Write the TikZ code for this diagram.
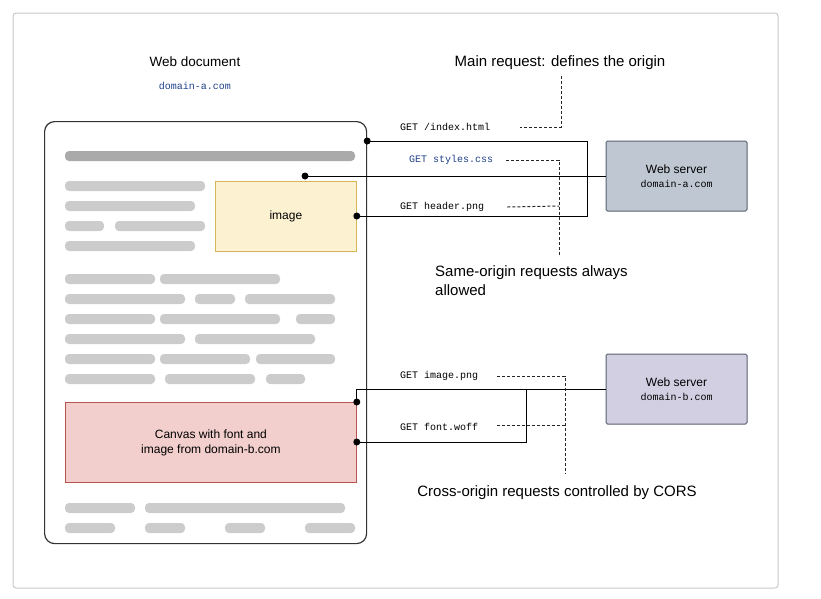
\documentclass[tikz,border=0pt]{standalone}
\usepackage{fontspec}
\setmainfont{Liberation Sans}
\setmonofont{Liberation Mono}
\usetikzlibrary{positioning, calc}

\definecolor{frameGray}{HTML}{C8C8C8}
\definecolor{barGray}{HTML}{CCCCCC}
\definecolor{headGray}{HTML}{AAAAAA}
\definecolor{imgFill}{HTML}{FCF2D2}
\definecolor{imgLine}{HTML}{D6B656}
\definecolor{cnvFill}{HTML}{F2CFCC}
\definecolor{cnvLine}{HTML}{B85450}
\definecolor{srvAFill}{HTML}{BFC8D2}
\definecolor{srvBFill}{HTML}{D2CFE2}
\definecolor{srvLine}{HTML}{5A6070}
\definecolor{linkBlue}{HTML}{1F3F8A}

\begin{document}
\begin{tikzpicture}[x=1pt, y=-1pt,
    docbox/.style={rectangle, draw=black!80, line width=1.2pt, rounded corners=10pt, anchor=north west},
    imgbox/.style={rectangle, draw=imgLine, fill=imgFill, line width=0.8pt, anchor=north west, font=\fontsize{12}{14}\selectfont},
    cnvbox/.style={rectangle, draw=cnvLine, fill=cnvFill, line width=0.8pt, anchor=north west, align=center, font=\fontsize{12}{15}\selectfont},
    server/.style={rectangle, draw=srvLine, line width=1pt, rounded corners=1.5pt, minimum width=141pt, minimum height=70pt, align=center, font=\fontsize{12}{16}\selectfont},
    req/.style={font=\ttfamily\fontsize{10}{12}\selectfont, anchor=west, inner sep=0pt},
    note/.style={font=\fontsize{15}{19}\selectfont, inner sep=0pt},
    bar/.style={fill=barGray, rounded corners=4pt},
    link/.style={line width=1pt, black},
    hint/.style={line width=1pt, dash pattern=on 3pt off 2pt, black!85},
    dot/.style={circle, fill=black, inner sep=0pt, minimum size=7pt}
]

% frame
\useasboundingbox (0,0) rectangle (821,598);
\draw[frameGray, line width=1pt, rounded corners=3pt] (13,13) rectangle (778,588);

% web document
\node[font=\fontsize{13.5}{15}\selectfont] (doctitle) at (195,62) {Web document};
\node[font=\ttfamily\fontsize{10}{12}\selectfont, text=linkBlue] (docdomain) at (195,86) {domain-a.com};
\node[docbox, minimum width=322pt, minimum height=422pt] (doc) at (44,121) {};

\fill[headGray, rounded corners=4pt] (65,151) rectangle (355,161);
\foreach \y/\a/\b in {186/65/205, 206/65/195, 226/65/104, 226/115/205, 246/65/195,
    279/65/155, 279/160/280, 299/65/185, 299/195/235, 299/245/335,
    319/65/155, 319/160/280, 319/296/335, 339/65/185, 339/195/315,
    359/65/155, 359/160/250, 359/256/335, 379/65/155, 379/165/255, 379/266/305,
    508/65/135, 508/145/345, 528/65/115, 528/145/185, 528/225/265, 528/305/355}
  \fill[bar] (\a,\y-5) rectangle (\b,\y+5);

\node[imgbox, minimum width=141pt, minimum height=70pt] (img) at (215,181) {image};
\node[cnvbox, minimum width=291pt, minimum height=80pt] (cnv) at (65,402) {Canvas with font and\\image from domain-b.com};

% servers
\node[server, fill=srvAFill] (srvA) at (676.5,176) {Web server\\[-2pt]{\ttfamily\fontsize{10}{12}\selectfont domain-a.com}};
\node[server, fill=srvBFill] (srvB) at (676.5,389) {Web server\\[-2pt]{\ttfamily\fontsize{10}{12}\selectfont domain-b.com}};

% request end points
\node[dot] (pIndex) at (doc.north east |- 0,141) {};
\node[dot] (pCss) at (305,176) {};
\node[dot] (pHead) at (img.east |- 0,216) {};
\node[dot] (pImg) at (cnv.north east) {};
\node[dot] (pFont) at (cnv.east |- 0,442) {};
\coordinate (jA) at (587,141);
\coordinate (jB) at (526,389);

% same-origin requests
\draw[link] (pIndex.center) -- (jA) |- (pHead.center);
\draw[link] (pCss.center) -- (srvA.west);
\node[req] (rIndex) at (400,127) {GET /index.html};
\node[req, text=linkBlue] (rCss) at (409,160) {GET styles.css};
\node[req] (rHead) at (400,207) {GET header.png};

% cross-origin requests
\draw[link] (pImg.center) |- (srvB.west);
\draw[link] (jB) |- (pFont.center);
\node[req] (rImg) at (400,376) {GET image.png};
\node[req] (rFont) at (400,427) {GET font.woff};

% notes
\node[note] (nMain) at (560,63) {Main request: defines the origin};
\node[note, anchor=north west, align=left] (nSame) at (435,265) {Same-origin requests always\\allowed};
\node[note] (nCross) at (557,493) {Cross-origin requests controlled by CORS};

\draw[hint] (nMain.south -| 561,0) ++(0,6) |- ([xshift=30pt]rIndex.east);
\draw[hint] ([xshift=13pt]rCss.east) -| ([yshift=10pt]nSame.north -| 559,0);
\draw[hint] ([xshift=23pt]rHead.east) -- (559,206);
\draw[hint] ([xshift=19pt]rImg.east) -| ([yshift=12pt]nCross.north -| 565,0);
\draw[hint] ([xshift=19pt]rFont.east |- 0,425) -- (565,425);

\end{tikzpicture}
\end{document}
